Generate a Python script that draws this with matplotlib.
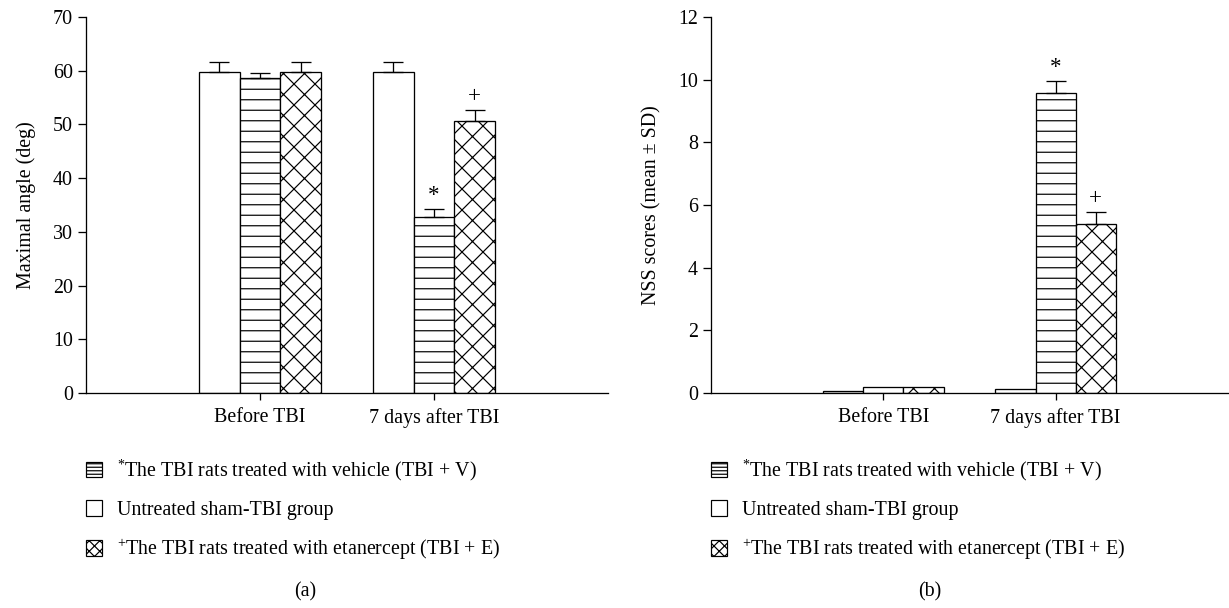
import numpy as np
import matplotlib
matplotlib.use("Agg")
import matplotlib.pyplot as plt
from matplotlib.patches import Rectangle

DPI = 63
W, H = 1229, 608
PT = 72.0 / DPI  # points per pixel

def px(v):
    return v * PT

plt.rcParams['font.family'] = ['Liberation Serif', 'DejaVu Serif']
plt.rcParams['mathtext.fontset'] = 'custom'
plt.rcParams['mathtext.rm'] = 'Liberation Serif'
plt.rcParams['mathtext.it'] = 'Liberation Serif'
plt.rcParams['hatch.linewidth'] = px(1.2)

# ---------------- data ----------------
groups = ["Before TBI", "7 days after TBI"]
series_names = ["sham", "vehicle", "etanercept"]

angle_sham = [59.7, 59.7]
angle_vehicle = [58.6, 32.7]
angle_etanercept = [59.7, 50.7]
angle_sham_err = [2.0, 2.0]
angle_vehicle_err = [1.0, 1.5]
angle_etanercept_err = [2.0, 1.9]

nss_sham = [0.06, 0.13]
nss_vehicle = [0.18, 9.58]
nss_etanercept = [0.18, 5.38]
nss_sham_err = [0.0, 0.0]
nss_vehicle_err = [0.0, 0.39]
nss_etanercept_err = [0.0, 0.39]

angle_yticks = [0, 10, 20, 30, 40, 50, 60, 70]
nss_yticks = [0, 2, 4, 6, 8, 10, 12]

legend_labels = [r"$^{*}$The TBI rats treated with vehicle (TBI + V)",
                 "Untreated sham-TBI group",
                 r"$^{+}$The TBI rats treated with etanercept (TBI + E)"]

FS = px(20)
fig = plt.figure(figsize=(W / DPI, H / DPI), dpi=DPI)

bottom = 1 - 393 / H
height = (393 - 17) / H
axA = fig.add_axes([86 / W, bottom, (608 - 86) / W, height])
axB = fig.add_axes([711 / W, bottom, (1228 - 711) / W, height])

bw = 0.233
hatches = [None, '-', 'x']
x = np.arange(len(groups))

def draw(ax, vals, errs, yticks, ylabel, marks):
    for i, (v, e, h) in enumerate(zip(vals, errs, hatches)):
        pos = x + (i - 1) * bw
        ax.bar(pos, v, width=bw, color='white', edgecolor='black',
               linewidth=px(1.3), hatch=h, zorder=2)
        ee = np.array(e)
        mask = ee > 0
        if mask.any():
            ax.errorbar(pos[mask], np.array(v)[mask],
                        yerr=[np.zeros(mask.sum()), ee[mask]],
                        fmt='none', ecolor='black', elinewidth=px(1.3),
                        capsize=px(10), capthick=px(1.3), zorder=3)
    for (gi, si, sym) in marks:
        v = vals[si][gi]
        e = errs[si][gi]
        ax.annotate(sym, xy=(x[gi] + (si - 1) * bw, v + e), xytext=(0, px(3)),
                    textcoords='offset points', ha='center', va='bottom',
                    fontsize=px(23))
    ax.set_xlim(-1, 2)
    ax.set_ylim(yticks[0], yticks[-1])
    ax.set_yticks(yticks)
    ax.set_xticks(x)
    ax.set_xticklabels(groups)
    for s in ['top', 'right']:
        ax.spines[s].set_visible(False)
    for s in ['left', 'bottom']:
        ax.spines[s].set_linewidth(px(1.3))
    ax.tick_params(axis='y', direction='out', length=px(8), width=px(1.3),
                   pad=px(5), labelsize=FS)
    ax.tick_params(axis='x', direction='out', length=px(7), width=px(1.3),
                   pad=px(8), labelsize=FS)
    ax.set_ylabel(ylabel, fontsize=FS, labelpad=px(17))

    handles = [Rectangle((0, 0), 1, 1, facecolor='white', edgecolor='black',
                         linewidth=px(1.2), hatch='---'),
               Rectangle((0, 0), 1, 1, facecolor='white', edgecolor='black',
                         linewidth=px(1.2)),
               Rectangle((0, 0), 1, 1, facecolor='white', edgecolor='black',
                         linewidth=px(1.2), hatch='xx')]
    ax.legend(handles, legend_labels, loc='upper left',
              bbox_to_anchor=(0, -(458 - 393) / 376), frameon=False,
              fontsize=FS, handlelength=0.8, handleheight=0.8,
              handletextpad=0.75, labelspacing=0.85, borderpad=0,
              borderaxespad=0)

draw(axA, [angle_sham, angle_vehicle, angle_etanercept],
     [angle_sham_err, angle_vehicle_err, angle_etanercept_err],
     angle_yticks, "Maximal angle (deg)", [(1, 1, '*'), (1, 2, '+')])
draw(axB, [nss_sham, nss_vehicle, nss_etanercept],
     [nss_sham_err, nss_vehicle_err, nss_etanercept_err],
     nss_yticks, "NSS scores (mean ± SD)", [(1, 1, '*'), (1, 2, '+')])

fig.text(305 / W, 1 - 592 / H, "(a)", ha='center', va='center', fontsize=FS)
fig.text(930 / W, 1 - 592 / H, "(b)", ha='center', va='center', fontsize=FS)

fig.savefig("out.png", dpi=DPI)
